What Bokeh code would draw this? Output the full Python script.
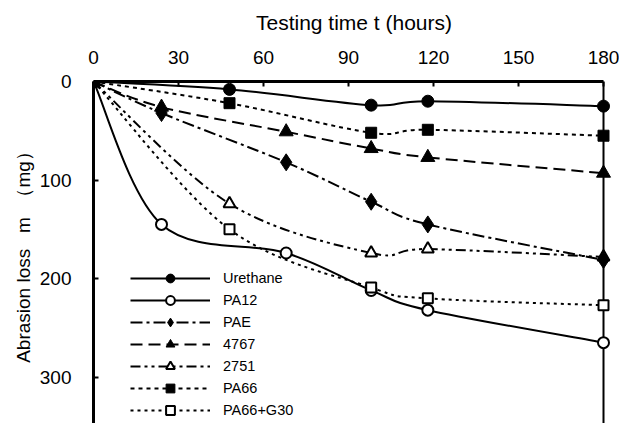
import numpy as np
from bokeh.plotting import figure
from bokeh.models import Range1d, FixedTicker, Legend, LegendItem
from bokeh.embed import file_html
from bokeh.resources import INLINE

# ---------------- data ----------------
series_names = ["Urethane", "PA12", "PAE", "4767", "2751", "PA66", "PA66+G30"]

urethane_t = [0, 48, 98, 118, 180]
urethane_m = [0, 8, 24, 20, 25]

pa12_t = [0, 24, 68, 98, 118, 180]
pa12_m = [0, 145, 174, 212, 232, 265]

pae_t = [0, 24, 68, 98, 118, 180]
pae_m = [0, 32, 82, 122, 145, 181]

s4767_t = [0, 24, 68, 98, 118, 180]
s4767_m = [0, 26, 51, 68, 77, 93]

s2751_t = [0, 48, 98, 118, 180]
s2751_m = [0, 124, 174, 170, 178]

pa66_t = [0, 48, 98, 118, 180]
pa66_m = [0, 22, 52, 49, 55]

pa66g30_t = [0, 48, 98, 118, 180]
pa66g30_m = [0, 150, 209, 220, 227]

x_ticks = [0, 30, 60, 90, 120, 150, 180]
y_ticks = [0, 100, 200, 300]
x_limits = (0, 180)
y_limits = (0, 347)

FONT = "Liberation Sans"

# ---------------- figure ----------------
# x range padded on the right so that the markers at 180 h are not clipped
p = figure(width=619, height=423,
           x_range=Range1d(0, 183.88), y_range=Range1d(347, 0),
           x_axis_location="above", y_axis_location="left",
           toolbar_location=None, output_backend="svg",
           min_border_left=93, min_border_right=5,
           min_border_top=81, min_border_bottom=0)
p.grid.visible = False
p.outline_line_color = None
p.background_fill_color = "white"
p.border_fill_color = "white"

xa = p.xaxis[0]
xa.ticker = FixedTicker(ticks=x_ticks)
xa.axis_label = "Testing time t (hours)"
xa.bounds = x_limits
ya = p.yaxis[0]
ya.ticker = FixedTicker(ticks=y_ticks)
ya.axis_label = "Abrasion loss\u00a0\u00a0 m\u00a0 \uff08mg\uff09"
for ax in (xa, ya):
    ax.axis_line_width = 3
    ax.axis_line_color = "black"
    ax.major_tick_in = 5
    ax.major_tick_out = 0
    ax.major_tick_line_width = 2
    ax.minor_tick_line_color = None
    ax.major_label_text_font = FONT
    ax.major_label_text_font_size = "19px"
    ax.major_label_text_color = "black"
    ax.axis_label_text_font = FONT
    ax.axis_label_text_font_style = "normal"
    ax.axis_label_text_color = "black"
xa.axis_label_text_font_size = "21px"
xa.major_label_standoff = 18
xa.axis_label_standoff = 14
ya.axis_label_text_font_size = "19px"
ya.major_label_standoff = 22
ya.axis_label_standoff = 3

# right-hand border of the plot area at the last time value
p.segment(x0=[x_limits[1]], y0=[y_limits[0]], x1=[x_limits[1]], y1=[y_limits[1]],
          line_color="black", line_width=2)


def smooth_segments(t, m):
    """Bezier control points (Catmull-Rom style) through the data points."""
    x = np.asarray(t, float)
    y = np.asarray(m, float)
    xp = np.concatenate([[x[0]], x, [x[-1]]])
    yp = np.concatenate([[y[0]], y, [y[-1]]])
    n = len(x) - 1
    d = dict(x0=[], y0=[], x1=[], y1=[], cx0=[], cy0=[], cx1=[], cy1=[])
    for i in range(n):
        d["x0"].append(xp[i + 1]); d["y0"].append(yp[i + 1])
        d["x1"].append(xp[i + 2]); d["y1"].append(yp[i + 2])
        d["cx0"].append(xp[i + 1] + (xp[i + 2] - xp[i]) / 6)
        d["cy0"].append(yp[i + 1] + (yp[i + 2] - yp[i]) / 6)
        d["cx1"].append(xp[i + 2] - (xp[i + 3] - xp[i + 1]) / 6)
        d["cy1"].append(yp[i + 2] - (yp[i + 3] - yp[i + 1]) / 6)
    return d


series = [
    # name, t, m, dash, marker, fill, size
    ("Urethane", urethane_t, urethane_m, "solid", "circle", "black", 12),
    ("PA12", pa12_t, pa12_m, "solid", "circle", "white", 11),
    ("PAE", pae_t, pae_m, "12 4 3 4", "diamond", "black", 17),
    ("4767", s4767_t, s4767_m, "12 6", "triangle", "black", 14),
    ("2751", s2751_t, s2751_m, "10 4 3 4 3 4", "triangle", "white", 12),
    ("PA66", pa66_t, pa66_m, "4 4", "square", "black", 11),
    ("PA66+G30", pa66g30_t, pa66g30_m, "3 4", "square", "white", 10),
]

legend_lines = {}
for name, t, m, dash, marker, fill, size in series:
    seg = smooth_segments(t, m)
    p.bezier(x0=seg["x0"], y0=seg["y0"], x1=seg["x1"], y1=seg["y1"],
             cx0=seg["cx0"], cy0=seg["cy0"], cx1=seg["cx1"], cy1=seg["cy1"],
             line_color="black", line_width=2, line_dash=dash)
    legend_lines[name] = p.line(x=[np.nan], y=[np.nan], line_color="black",
                                line_width=2, line_dash=dash)

marker_renderers = {}
draw_order = ["Urethane", "PA12", "2751", "PAE", "4767", "PA66+G30", "PA66"]
lookup = {s[0]: s for s in series}
for name in draw_order:
    _, t, m, dash, marker, fill, size = lookup[name]
    lw = 2 if fill == "white" else 1
    marker_renderers[name] = p.scatter(x=t, y=m, marker=marker, size=size,
                                       fill_color=fill, line_color="black",
                                       line_width=lw)

items = [LegendItem(label=n, renderers=[legend_lines[n], marker_renderers[n]])
         for n in series_names]
legend = Legend(items=items, location=(37, 2),
                glyph_width=80, glyph_height=22, label_height=22,
                spacing=0, padding=2, margin=0, label_standoff=13,
                label_text_font=FONT, label_text_font_size="14.5px",
                label_text_color="black",
                border_line_color=None, background_fill_color="white",
                background_fill_alpha=1.0)
p.add_layout(legend, "center")

open("out.html", "w").write(file_html(p, INLINE))
